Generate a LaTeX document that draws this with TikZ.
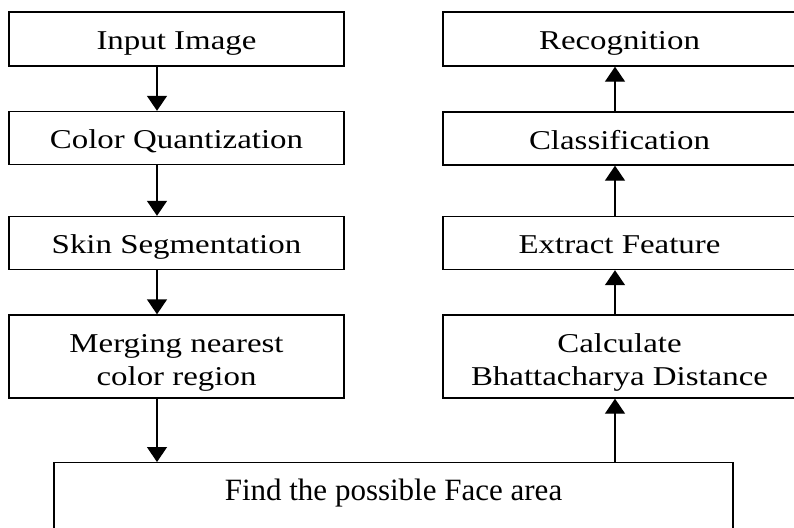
\documentclass[tikz,border=0pt]{standalone}
\usepackage{fontspec}
\setmainfont{Liberation Serif}
\newfontfamily\boxfont[FakeStretch=1.21]{Liberation Serif}
\usepackage{tikz}
\usetikzlibrary{arrows.meta,positioning,calc}

\begin{document}
\begin{tikzpicture}[x=1pt,y=-1pt,
   	stage/.style={rectangle,draw=black,line width=1.4pt,inner sep=0pt,align=center,
   		font=\boxfont\fontsize{27.2}{33}\selectfont},
   	lstage/.style={stage,minimum width=335pt},
   	rstage/.style={stage,minimum width=353pt},
   	oneline/.style={text height=37pt,text depth=16pt},
   	twoline/.style={text height=70pt,text depth=13pt},
   	flow/.style={line width=1.4pt,-{Triangle[width=20pt,length=15pt]}}]
   	\useasboundingbox (0,0) rectangle (794,527);
   	\clip (0,0) rectangle (794,527);
   	% left column, going down
   	\path   (176.5,39)   node (input) [lstage,oneline,minimum height=54pt] {Input Image}
   	        (176.5,138)  node (quant) [lstage,oneline,minimum height=52pt] {Color Quantization}
   	        (176.5,243)  node (skin)  [lstage,oneline,minimum height=52pt] {Skin Segmentation}
   	        (176.5,356.5) node (merge) [lstage,twoline,minimum height=83pt] {Merging nearest\\color region};
   	% right column, going up
   	\path   (619.5,39)   node (recog) [rstage,oneline,minimum height=54pt] {Recognition}
   	        (619.5,138.5) node (classif) [rstage,oneline,minimum height=51pt] {Classification}
   	        (619.5,243)  node (feat)  [rstage,oneline,minimum height=52pt] {Extract Feature}
   	        (619.5,356.5) node (bhatt) [rstage,twoline,minimum height=83pt] {Calculate\\Bhattacharya Distance};
   	\node (face) at (393.5,462) [draw=black,line width=1.4pt,anchor=north,minimum width=679pt,
   		inner ysep=0pt,text height=38pt,text depth=62pt,font=\fontsize{31}{36}\selectfont]
   		{Find the possible Face area};
   	\draw [flow] ([xshift=-19.5pt]input.south) -- ([xshift=-19.5pt]quant.north);
   	\draw [flow] ([xshift=-19.5pt]quant.south) -- ([xshift=-19.5pt]skin.north);
   	\draw [flow] ([xshift=-19.5pt]skin.south) -- ([xshift=-19.5pt]merge.north);
   	\draw [flow] ([xshift=-19.5pt]merge.south) -- ([xshift=-19.5pt]merge.south |- face.north);
   	\draw [flow] ([xshift=-4.5pt]bhatt.south |- face.north) -- ([xshift=-4.5pt]bhatt.south);
   	\draw [flow] ([xshift=-4.5pt]bhatt.north) -- ([xshift=-4.5pt]feat.south);
   	\draw [flow] ([xshift=-4.5pt]feat.north) -- ([xshift=-4.5pt]classif.south);
   	\draw [flow] ([xshift=-4.5pt]classif.north) -- ([xshift=-4.5pt]recog.south);
\end{tikzpicture}
\end{document}
